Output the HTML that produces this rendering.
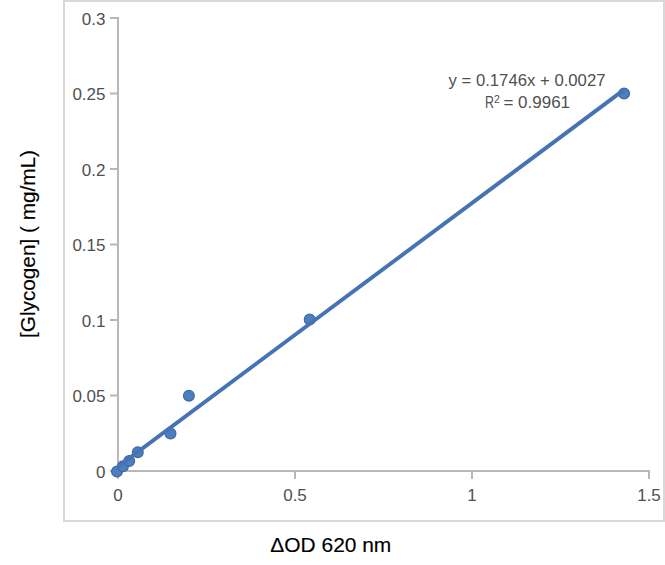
<!DOCTYPE html>
<html><head><meta charset="utf-8"><style>
html,body{margin:0;padding:0;background:#fff;width:665px;height:565px;overflow:hidden}
svg{display:block}
.tl{font-family:"Liberation Sans",sans-serif;font-size:17px;fill:#505050}
.eq{font-family:"Liberation Sans",sans-serif;font-size:17px;fill:#505050}
.ttl{font-family:"Liberation Sans",sans-serif;font-size:20px;fill:#000;stroke:#000;stroke-width:0.15px}
</style></head><body>
<svg width="665" height="565" viewBox="0 0 665 565">
<rect x="64" y="1" width="600" height="520" fill="none" stroke="#d9d9d9" stroke-width="2"/>
<path d="M110 18.0 H118 V471 H649 V479" fill="none" stroke="#b8b8b8" stroke-width="2"/>
<path d="M110 471.0 H118" stroke="#b8b8b8" stroke-width="2"/>
<path d="M110 395.5 H118" stroke="#b8b8b8" stroke-width="2"/>
<path d="M110 320.0 H118" stroke="#b8b8b8" stroke-width="2"/>
<path d="M110 244.5 H118" stroke="#b8b8b8" stroke-width="2"/>
<path d="M110 169.0 H118" stroke="#b8b8b8" stroke-width="2"/>
<path d="M110 93.5 H118" stroke="#b8b8b8" stroke-width="2"/>
<path d="M118.0 471 V479" stroke="#b8b8b8" stroke-width="2"/>
<path d="M295.0 471 V479" stroke="#b8b8b8" stroke-width="2"/>
<path d="M472.0 471 V479" stroke="#b8b8b8" stroke-width="2"/>
<text x="105.5" y="477.5" text-anchor="end" class="tl">0</text>
<text x="105.5" y="402.0" text-anchor="end" class="tl">0.05</text>
<text x="105.5" y="326.5" text-anchor="end" class="tl">0.1</text>
<text x="105.5" y="251.0" text-anchor="end" class="tl">0.15</text>
<text x="105.5" y="175.5" text-anchor="end" class="tl">0.2</text>
<text x="105.5" y="100.0" text-anchor="end" class="tl">0.25</text>
<text x="105.5" y="24.5" text-anchor="end" class="tl">0.3</text>
<text x="118.0" y="501.2" text-anchor="middle" class="tl">0</text>
<text x="295.0" y="501.2" text-anchor="middle" class="tl">0.5</text>
<text x="472.0" y="501.2" text-anchor="middle" class="tl">1</text>
<text x="649.0" y="501.2" text-anchor="middle" class="tl">1.5</text>
<circle cx="117" cy="471.5" r="5.4" fill="#4a7fc0" stroke="#40679f" stroke-width="1.2"/>
<circle cx="123" cy="466.3" r="5.4" fill="#4a7fc0" stroke="#40679f" stroke-width="1.2"/>
<circle cx="129.2" cy="461" r="5.4" fill="#4a7fc0" stroke="#40679f" stroke-width="1.2"/>
<circle cx="137.8" cy="452.2" r="5.4" fill="#4a7fc0" stroke="#40679f" stroke-width="1.2"/>
<circle cx="170.5" cy="433.6" r="5.4" fill="#4a7fc0" stroke="#40679f" stroke-width="1.2"/>
<circle cx="188.9" cy="395.7" r="5.4" fill="#4a7fc0" stroke="#40679f" stroke-width="1.2"/>
<circle cx="309.7" cy="319.6" r="5.4" fill="#4a7fc0" stroke="#40679f" stroke-width="1.2"/>
<circle cx="624.1" cy="93.5" r="5.4" fill="#4a7fc0" stroke="#40679f" stroke-width="1.2"/>
<line x1="118.0" y1="466.6" x2="623.9" y2="89.9" stroke="#4673b3" stroke-width="3.9"/>
<text x="448.5" y="86" class="eq" textLength="157" lengthAdjust="spacingAndGlyphs">y = 0.1746x + 0.0027</text>
<text x="485" y="107.5" class="eq" textLength="9" lengthAdjust="spacingAndGlyphs">R</text>
<text x="494" y="102.5" class="eq" style="font-size:10.5px">2</text>
<text x="503.5" y="107.5" class="eq" textLength="66.5" lengthAdjust="spacingAndGlyphs">= 0.9961</text>
<text x="270.3" y="551.5" class="ttl" textLength="121" lengthAdjust="spacingAndGlyphs">ΔOD 620 nm</text>
<text transform="translate(34.5,338) rotate(-90)" x="0" y="0" class="ttl" textLength="188" lengthAdjust="spacingAndGlyphs">[Glycogen] ( mg/mL)</text>
</svg>
</body></html>
